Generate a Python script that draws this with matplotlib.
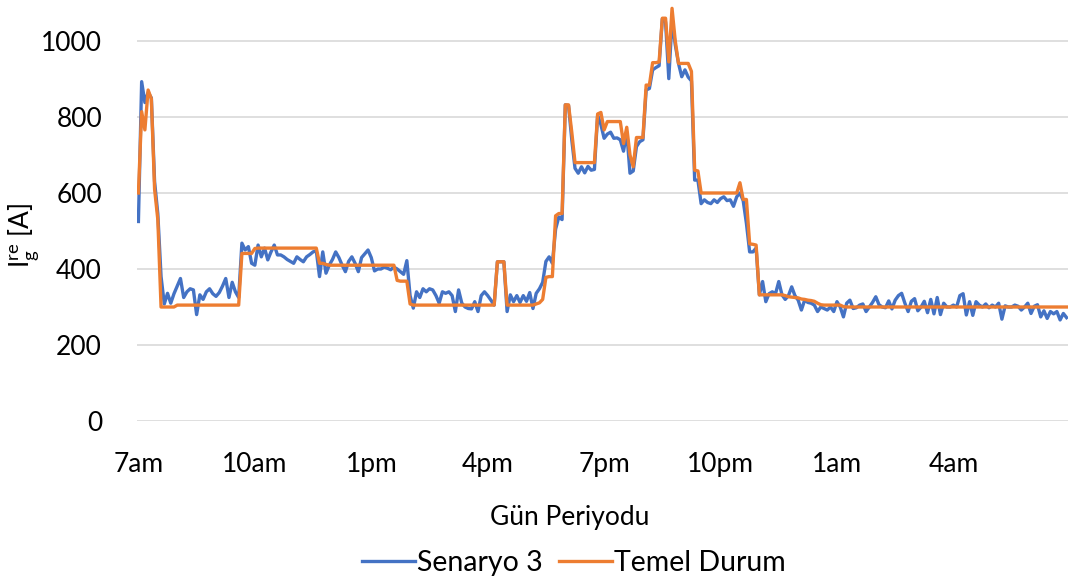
import matplotlib
matplotlib.use("Agg")
import matplotlib.pyplot as plt
import numpy as np

# 5-minute samples from 7am to 6:55am (288 points)
tick_labels = ["7am", "10am", "1pm", "4pm", "7pm", "10pm", "1am", "4am"]
tick_index = [0, 36, 72, 108, 144, 180, 216, 252]

senaryo3 = [
    525, 893, 838, 865, 850, 630, 545, 380, 308, 336, 310, 335,
    355, 375, 325, 340, 348, 345, 280, 332, 320, 340, 348, 335,
    328, 338, 355, 375, 325, 365, 340, 325, 468, 450, 459, 415,
    410, 463, 432, 455, 424, 445, 463, 437, 437, 432, 425, 420,
    415, 432, 425, 419, 432, 438, 445, 448, 380, 445, 389, 410,
    425, 445, 430, 410, 393, 420, 432, 415, 393, 430, 440, 450,
    430, 395, 400, 400, 405, 402, 398, 405, 400, 393, 386, 422,
    330, 297, 340, 325, 348, 340, 348, 345, 330, 310, 340, 336,
    340, 330, 288, 345, 310, 300, 296, 295, 314, 288, 330, 340,
    330, 318, 305, 419, 419, 419, 288, 332, 314, 330, 312, 330,
    315, 338, 296, 336, 348, 365, 420, 432, 415, 505, 537, 530,
    832, 830, 740, 665, 652, 669, 653, 670, 660, 662, 805, 780,
    744, 755, 760, 744, 745, 740, 710, 760, 652, 658, 722, 735,
    740, 871, 875, 924, 930, 935, 1058, 1050, 901, 1055, 990, 941,
    906, 924, 905, 895, 634, 634, 572, 582, 575, 572, 582, 575,
    585, 590, 580, 582, 565, 590, 600, 580, 520, 445, 445, 455,
    332, 367, 314, 335, 340, 335, 367, 332, 320, 330, 353, 330,
    318, 292, 318, 312, 310, 305, 288, 300, 296, 292, 300, 288,
    314, 300, 274, 310, 318, 296, 298, 305, 308, 288, 300, 312,
    327, 306, 300, 298, 316, 295, 318, 330, 336, 310, 288, 315,
    322, 290, 300, 315, 285, 320, 282, 325, 280, 310, 300, 300,
    305, 300, 330, 335, 279, 314, 278, 314, 305, 300, 308, 298,
    305, 300, 310, 268, 303, 300, 300, 305, 302, 292, 300, 310,
    283, 302, 306, 274, 290, 270, 288, 282, 288, 266, 283, 272,
]

temel_durum = [
    600, 814, 766, 871, 848, 610, 530, 300, 300, 300, 300, 300,
    305, 305, 305, 305, 305, 305, 305, 305, 305, 305, 305, 305,
    305, 305, 305, 305, 305, 305, 305, 305, 441, 441, 441, 441,
    454, 455, 455, 455, 455, 455, 455, 455, 455, 455, 455, 455,
    455, 455, 455, 455, 455, 455, 455, 455, 415, 415, 412, 410,
    410, 410, 410, 410, 410, 410, 410, 410, 410, 410, 410, 410,
    410, 410, 410, 410, 410, 410, 410, 410, 370, 368, 368, 368,
    308, 305, 305, 305, 305, 305, 305, 305, 305, 305, 305, 305,
    305, 305, 305, 305, 305, 305, 305, 305, 305, 305, 305, 305,
    305, 305, 305, 419, 419, 419, 305, 305, 305, 305, 305, 305,
    305, 305, 305, 308, 311, 320, 378, 380, 380, 540, 546, 546,
    832, 832, 760, 680, 680, 680, 680, 680, 680, 680, 808, 812,
    766, 788, 788, 788, 788, 788, 730, 773, 700, 669, 746, 746,
    746, 884, 884, 943, 943, 945, 1060, 1060, 945, 1086, 1000, 941,
    941, 941, 941, 920, 660, 658, 600, 600, 600, 600, 600, 600,
    600, 600, 600, 600, 600, 600, 627, 583, 583, 466, 465, 463,
    332, 332, 332, 332, 332, 332, 332, 332, 330, 327, 326, 325,
    324, 321, 320, 318, 317, 315, 310, 306, 305, 305, 305, 305,
    305, 305, 301, 300, 300, 300, 300, 300, 300, 300, 300, 300,
    300, 300, 300, 300, 300, 300, 300, 300, 300, 300, 300, 300,
    300, 300, 300, 300, 300, 300, 300, 300, 300, 300, 300, 300,
    300, 300, 300, 300, 300, 300, 300, 300, 300, 300, 300, 300,
    300, 300, 300, 300, 300, 300, 300, 300, 300, 300, 300, 300,
    300, 300, 300, 300, 300, 300, 300, 300, 300, 300, 300, 300,
]

plt.rcParams['font.family'] = ['Lato', 'DejaVu Sans']
plt.rcParams['mathtext.fontset'] = 'custom'
plt.rcParams['mathtext.rm'] = 'Lato'
plt.rcParams['mathtext.it'] = 'Lato'

FS = 19
W, H = 1073, 584
AX_L, AX_R, AX_T, AX_B = 136.8, 1068.2, 3, 421
fig = plt.figure(figsize=(W / 100, H / 100), dpi=100)
ax = fig.add_axes([AX_L / W, 1 - AX_B / H, (AX_R - AX_L) / W, (AX_B - AX_T) / H])

x = np.arange(len(senaryo3))
ax.plot(x, senaryo3, color='#4472C4', lw=2.4, label='Senaryo 3', solid_joinstyle='round')
ax.plot(x, temel_durum, color='#ED7D31', lw=2.4, label='Temel Durum', solid_joinstyle='round')

ax.set_xlim(-0.5, len(senaryo3) - 0.5)
ax.set_ylim(0, 1100)
ax.set_yticks([0, 200, 400, 600, 800, 1000])
ax.set_xticks(tick_index)
ax.set_xticklabels(tick_labels)
ax.grid(axis='y', color='#d9d9d9', lw=1.2)
ax.set_axisbelow(True)
for s in ax.spines.values():
    s.set_visible(False)
ax.tick_params(axis='both', length=0, labelsize=FS, colors='black')
ax.tick_params(axis='y', pad=25)
ax.tick_params(axis='x', pad=22)

def ax_coords(px, py):
    return (px - AX_L) / (AX_R - AX_L), (AX_B - py) / (AX_B - AX_T)

ax.set_xlabel('Gün Periyodu', fontsize=FS, va='center', ha='center')
ax.xaxis.set_label_coords(*ax_coords(570, 517))
ax.set_ylabel(r'$\mathregular{I_g^{re}}$ [A]', fontsize=FS, va='center', ha='center')
ax.yaxis.set_label_coords(*ax_coords(24, 235))

fig.legend(loc='center', bbox_to_anchor=(574 / W, 1 - 563 / H), ncol=2, frameon=False,
           fontsize=20.5, handlelength=1.85, handletextpad=0.08, columnspacing=0.55)

fig.savefig('out.png', dpi=100)
